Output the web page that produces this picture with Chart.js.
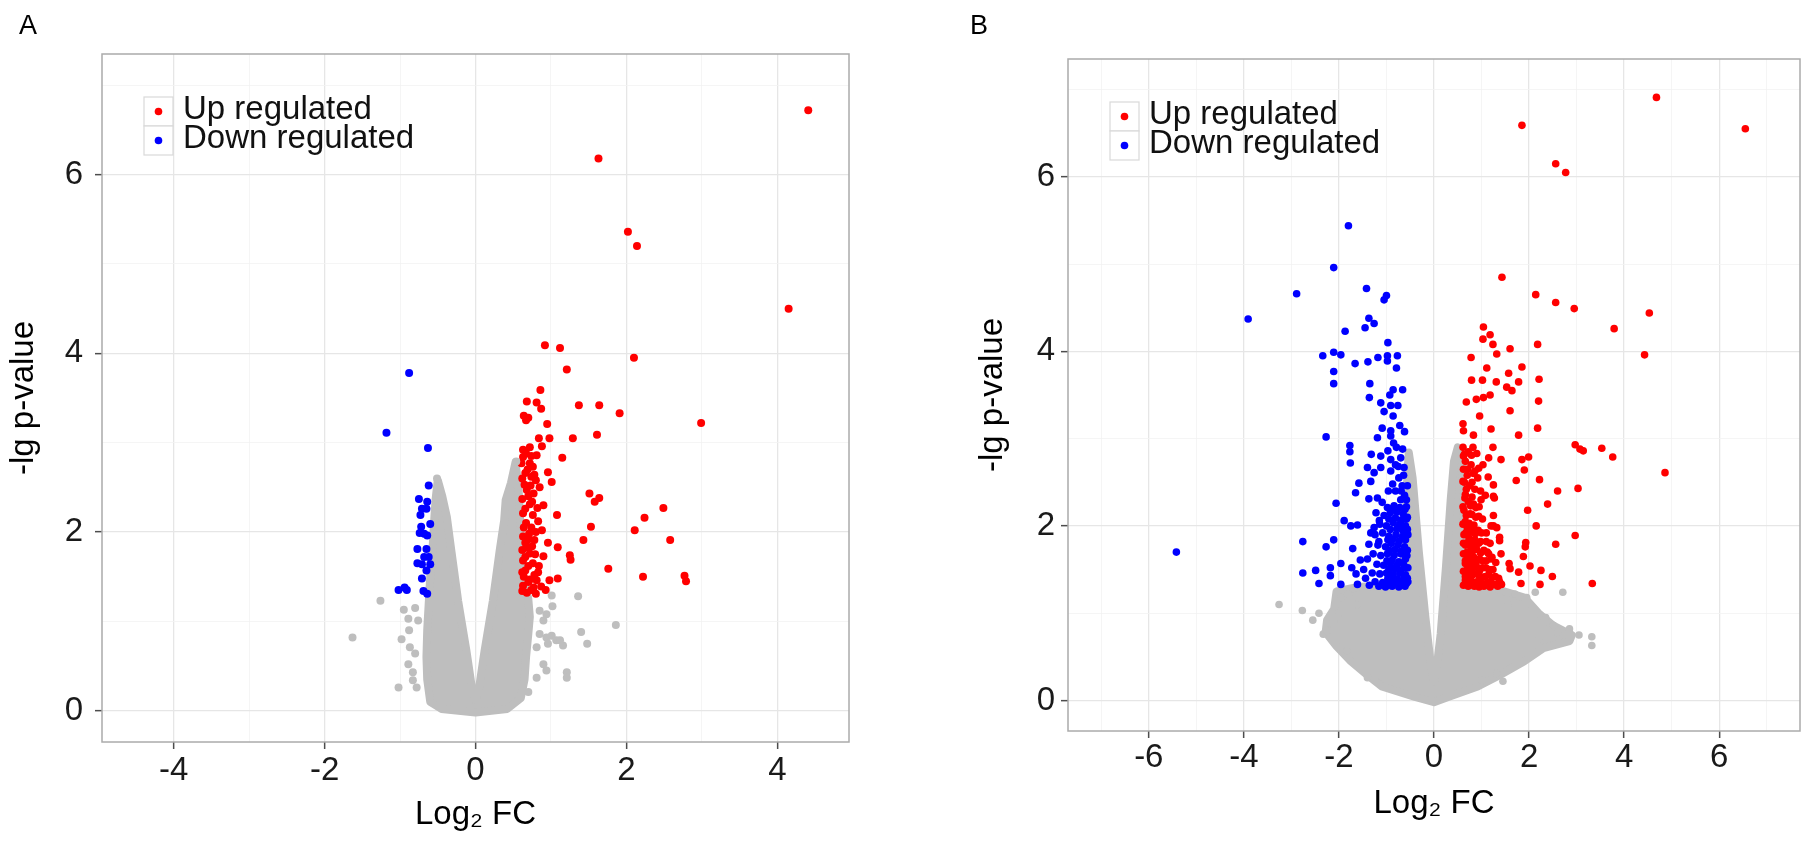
<!DOCTYPE html>
<html>
<head>
<meta charset="utf-8">
<title>Volcano plots</title>
<script src="https://cdn.jsdelivr.net/npm/chart.js@4.4.1/dist/chart.umd.min.js"></script>
<style>
  html, body { margin: 0; padding: 0; background: #fff; }
  #wrap { position: relative; width: 1813px; height: 852px; overflow: hidden; }
  #wrap canvas { position: absolute; left: 0; top: 0; }
  .panel-tag { position: absolute; font: 27px "Liberation Sans", Arial, sans-serif; line-height: 27px; color: #000; }
</style>
</head>
<body>
<div id="wrap">
  <canvas id="chartA" width="1813" height="852" style="width:1813px;height:852px"></canvas>
  <canvas id="chartB" width="1813" height="852" style="width:1813px;height:852px"></canvas>
  <div class="panel-tag" style="left:19px;top:12px">A</div>
  <div class="panel-tag" style="left:970px;top:12px">B</div>
</div>
<script>
// Tick labels / legend text
const xTicksA = [-4, -2, 0, 2, 4];
const xTicksB = [-6, -4, -2, 0, 2, 4, 6];
const yTicks = [0, 2, 4, 6];
const seriesLabels = ["Up regulated", "Down regulated"];

// Panel A - up regulated (log2 FC, -lg p)
const aUpX = [4.41, 1.63, 2.02, 2.14, 4.15, 0.92, 1.12, 2.10, 1.21, 0.86, 0.68, 0.81, 0.87, 1.37, 1.64, 1.91, 2.99,
  0.64, 0.70, 0.67, 0.95, 0.84, 0.98, 1.29, 1.61, 0.88, 0.72, 0.67, 0.63, 1.15,
  0.61, 0.72, 0.76, 0.66, 0.74, 0.96, 1.01, 0.85, 0.68, 0.77, 0.62, 0.72, 0.90, 0.63, 0.76, 0.67, 0.71, 0.63, 0.78,
  0.96, 0.68, 0.72, 0.90, 0.63, 0.76, 0.66, 0.83, 0.72, 0.81, 0.63, 0.74, 0.68, 0.87, 0.98, 1.09, 1.09, 1.08, 0.65,
  0.80, 0.69, 0.81, 0.64, 0.74, 0.83, 0.70, 0.79, 0.64, 0.77, 0.93, 0.70, 0.82, 0.66,
  1.51, 1.58, 1.64, 2.49, 2.24, 1.53, 2.11, 2.58, 1.43, 1.25, 1.26, 1.76, 2.22, 2.77, 2.79,
  0.62, 0.70, 0.78, 0.66, 0.75, 0.62, 0.70, 0.80, 0.66, 0.75, 0.62, 0.73, 0.78, 0.63, 0.74, 0.84, 0.88, 0.62, 0.80];
const aUpY = [6.72, 6.18, 5.36, 5.20, 4.50, 4.09, 4.06, 3.95, 3.82, 3.59, 3.46, 3.45, 3.38, 3.42, 3.42, 3.33, 3.22,
  3.30, 3.28, 3.25, 3.21, 3.05, 3.05, 3.05, 3.09, 2.96, 2.95, 2.88, 2.84, 2.83,
  2.77, 2.77, 2.73, 2.66, 2.62, 2.67, 2.56, 2.50, 2.47, 2.43, 2.37, 2.31, 2.30, 2.21, 2.19, 2.10, 1.98, 1.95, 1.91,
  1.88, 1.83, 1.76, 1.73, 1.68, 1.65, 1.57, 1.55, 1.47, 1.46, 1.40, 1.35, 1.32, 1.39, 1.46, 1.48, 1.83, 2.19, 2.53,
  2.58, 2.70, 2.86, 2.05, 2.05, 2.12, 1.62, 1.75, 1.50, 1.38, 1.35, 2.40, 2.27, 1.88,
  2.43, 2.34, 2.38, 2.27, 2.16, 2.06, 2.02, 1.91, 1.91, 1.74, 1.69, 1.59, 1.50, 1.51, 1.45,
  1.55, 1.44, 1.52, 1.72, 1.84, 1.80, 1.92, 2.00, 2.26, 2.34, 2.60, 2.52, 2.64, 2.92, 2.85, 1.62, 2.02, 1.34, 1.31];

// Panel A - down regulated
const aDownX = [-0.88, -1.18, -0.63, -0.62, -0.75, -0.64, -0.71, -0.65, -0.73, -0.60, -0.74, -0.68, -0.64, -0.77,
  -0.65, -0.68, -0.77, -0.71, -0.60, -0.65, -0.71, -1.02, -0.94, -0.91, -0.69, -0.64, -0.72, -0.62];
const aDownY = [3.78, 3.11, 2.94, 2.52, 2.37, 2.34, 2.26, 2.26, 2.19, 2.09, 1.99, 1.98, 1.96, 1.81,
  1.81, 1.72, 1.65, 1.64, 1.64, 1.57, 1.48, 1.35, 1.38, 1.35, 1.34, 1.31, 2.06, 1.72];

// Panel A - not significant, loose points
const aBgX = [-1.26, -1.63, -1.02, -0.78, -0.83, -0.89, -0.87, -0.98, -0.88, -0.89, -0.95, -0.80, -0.76, -0.80, -0.83,
  1.36, 1.86, 1.40, 1.48, 1.21, 1.21, 1.02, 1.01, 0.94, 0.90, 0.85, 0.94, 1.01, 1.07, 1.16, 1.12, 0.96, 0.90, 0.94,
  0.81, 0.70, 0.81, 0.85, -0.51, 0.54];
const aBgY = [1.23, 0.82, 0.26, 0.26, 0.43, 0.52, 0.71, 0.80, 0.90, 1.03, 1.13, 1.15, 1.01, 0.64, 0.34,
  1.28, 0.96, 0.88, 0.75, 0.43, 0.37, 1.17, 1.29, 1.08, 1.01, 0.86, 0.82, 0.84, 0.79, 0.73, 0.79, 0.75, 0.52, 0.45,
  0.37, 0.21, 0.71, 1.12, 2.60, 2.79];

// Panel A - outline of the dense grey cloud
const aCloudX = [0.00, -0.45, -0.60, -0.64, -0.65, -0.64, -0.62, -0.60, -0.57, -0.55, -0.53, -0.50, -0.44, -0.38,
  -0.32, -0.23, -0.12, -0.05, 0.00, 0.05, 0.12, 0.23, 0.32, 0.38, 0.40, 0.47, 0.53, 0.57, 0.60, 0.63, 0.70, 0.72,
  0.70, 0.67, 0.65, 0.60, 0.42];
const aCloudY = [-0.02, 0.02, 0.10, 0.35, 0.60, 0.90, 1.20, 1.50, 1.80, 2.10, 2.36, 2.58, 2.40, 2.17,
  1.79, 1.23, 0.67, 0.27, 0.12, 0.27, 0.67, 1.23, 1.79, 2.13, 2.36, 2.55, 2.78, 2.50, 2.00, 1.50, 1.25, 1.05,
  0.86, 0.60, 0.35, 0.14, 0.02];

// Panel B - up regulated
const bUpX = [4.68, 1.85, 6.55, 2.56, 2.77, 1.43, 2.14, 2.56, 2.95, 4.53, 3.79, 1.04, 1.18, 1.03, 1.24, 1.32, 1.60,
  2.18, 4.43, 0.78, 1.11, 1.85, 1.57, 1.31, 1.78, 2.21, 0.79, 1.02, 1.53, 1.64, 1.18, 1.04, 0.89, 0.68, 2.20, 1.60,
  0.96, 0.61, 0.62, 0.83, 1.20, 1.78, 2.18, 2.97, 3.07, 3.14, 3.53, 3.76, 0.61, 0.82, 1.24, 1.03, 1.15, 1.41, 1.99,
  1.85, 1.90, 0.62, 0.83, 4.86, 1.73, 2.22, 1.25, 1.25, 0.98, 3.03, 2.60, 2.39, 1.97, 2.15, 2.97, 2.56, 1.93, 1.92,
  1.88, 2.02, 2.25, 2.49, 2.23, 1.83, 3.33, 1.60, 1.78, 1.58, 1.41, 1.22, 1.38, 1.38, 1.25, 1.32, 1.25, 1.27,
  0.64, 0.72, 0.90, 0.66, 0.78, 0.70, 0.92, 0.64, 0.75, 0.86, 0.66, 1.08, 0.72, 0.83, 0.95, 0.63, 0.76, 0.88, 1.02,
  0.66, 0.70, 0.80, 0.93, 1.10, 0.63, 0.74, 0.86, 0.98, 1.18, 0.66, 0.78, 0.90, 1.05, 0.62, 0.72, 0.84, 0.96, 1.10,
  1.30, 0.66, 0.78, 0.90, 1.02, 1.16, 0.62, 0.72, 0.84, 0.95, 1.08, 1.22, 1.36, 0.66, 0.78, 0.90, 1.00, 1.12, 1.27,
  1.42, 0.62, 0.72, 0.85, 0.95, 1.05, 1.18, 1.34, 0.70, 0.81, 0.68, 0.86, 1.14, 1.20, 1.15, 0.99,
  0.67, 0.79, 0.90, 1.21, 1.38, 0.66, 0.79, 1.01, 1.15, 1.29, 0.70, 0.81, 0.96, 1.09, 1.24, 0.66, 0.77, 0.89, 1.02,
  1.20, 0.70, 0.81, 0.98, 1.12, 0.62, 0.71, 0.82, 0.94, 1.10, 0.67, 0.77, 0.87, 1.00, 0.61, 0.74, 0.84, 0.68, 0.80,
  0.94, 0.61, 0.77, 0.88, 0.65, 0.80, 0.80, 0.61, 0.71, 0.94, 0.62, 0.79];
const bUpY = [6.91, 6.59, 6.55, 6.15, 6.05, 4.85, 4.65, 4.56, 4.49, 4.44, 4.26, 4.28, 4.19, 4.14, 4.08, 3.97, 4.03,
  4.08, 3.96, 3.93, 3.81, 3.82, 3.75, 3.65, 3.65, 3.68, 3.67, 3.67, 3.59, 3.55, 3.50, 3.47, 3.45, 3.42, 3.43, 3.32,
  3.26, 3.17, 3.09, 3.04, 3.11, 3.04, 3.12, 2.93, 2.88, 2.86, 2.89, 2.79, 2.90, 2.90, 2.90, 2.70, 2.78, 2.76, 2.79,
  2.76, 2.64, 2.65, 2.60, 2.61, 2.52, 2.53, 2.47, 2.34, 2.40, 2.43, 2.40, 2.25, 2.18, 2.00, 1.89, 1.79, 1.81, 1.76,
  1.65, 1.54, 1.49, 1.42, 1.33, 1.34, 1.34, 1.51, 1.47, 1.57, 1.68, 1.64, 1.87, 1.83, 2.00, 1.98, 2.12, 2.32,
  2.82, 2.85, 2.83, 2.74, 2.70, 2.58, 2.55, 2.50, 2.46, 2.42, 2.36, 2.35, 2.28, 2.25, 2.22, 2.18, 2.14, 2.10, 2.08,
  2.05, 1.98, 1.96, 1.95, 1.92, 1.90, 1.86, 1.84, 1.82, 1.80, 1.78, 1.75, 1.73, 1.72, 1.68, 1.66, 1.64, 1.62, 1.60,
  1.58, 1.57, 1.55, 1.53, 1.52, 1.50, 1.48, 1.46, 1.45, 1.43, 1.42, 1.41, 1.40, 1.38, 1.37, 1.36, 1.34, 1.35, 1.33,
  1.33, 1.32, 1.31, 1.31, 1.30, 1.31, 1.30, 1.31, 1.62, 1.83, 2.42, 2.63, 2.56, 2.00, 1.68, 2.30,
  1.34, 1.33, 1.35, 1.34, 1.36, 1.42, 1.43, 1.41, 1.44, 1.42, 1.50, 1.51, 1.49, 1.52, 1.50, 1.60, 1.61, 1.59, 1.60,
  1.62, 1.70, 1.71, 1.69, 1.70, 1.80, 1.81, 1.79, 1.80, 1.82, 1.92, 1.93, 1.91, 1.92, 2.02, 2.03, 2.01, 2.12, 2.13,
  2.11, 2.22, 2.23, 2.21, 2.32, 2.33, 2.50, 2.51, 2.65, 2.66, 2.80, 2.81];

// Panel B - down regulated
const bDownX = [-1.80, -2.11, -2.89, -3.91, -1.42, -1.05, -1.00, -1.37, -1.26, -1.87, -1.45, -0.97, -2.34, -2.11,
  -1.96, -1.66, -1.39, -1.18, -0.98, -0.77, -0.98, -0.79, -2.11, -2.11, -1.35, -1.36, -0.86, -0.66, -0.93, -1.12,
  -0.91, -0.76, -1.05, -0.86, -1.09, -0.91, -0.62, -1.19, -0.91, -2.27, -1.77, -1.77, -1.76, -0.79, -0.97, -1.12,
  -1.32, -1.40, -1.26, -1.12, -0.91, -0.81, -0.70, -0.63, -0.91, -0.74, -1.33, -1.58, -0.67, -0.56, -1.65, -0.81,
  -0.62, -2.06, -1.37, -1.19, -1.09, -0.98, -0.84, -1.89, -1.75, -1.61, -1.15, -1.26, -1.33, -2.76, -2.11, -2.27,
  -1.71, -1.37, -1.16, -5.42, -2.76, -2.49, -2.18, -2.18, -2.42, -1.96, -1.96, -1.73, -1.64, -1.61, -1.48, -1.44,
  -1.55,
  -1.22, -1.05, -0.92, -0.78, -0.65, -0.56, -1.14, -1.00, -0.86, -0.72, -0.60, -1.24, -1.08, -0.95, -0.80, -0.66,
  -0.55, -1.18, -1.02, -0.90, -0.76, -0.62, -1.28, -1.12, -0.98, -0.84, -0.70, -0.57, -1.20, -1.06, -0.92, -0.78,
  -0.64, -0.55, -1.30, -1.14, -1.00, -0.86, -0.72, -0.60, -1.24, -1.08, -0.94, -0.80, -0.67, -0.55, -1.16, -1.02,
  -0.88, -0.74, -0.61, -1.36, -1.40, -0.96, -0.70, -0.58,
  -0.93, -0.83, -0.69, -0.58, -0.97, -0.89, -0.77, -0.63, -0.56, -0.95, -0.83, -0.70, -0.60, -0.99, -0.88, -0.74,
  -0.60, -0.94, -0.82, -0.69, -0.56, -0.97, -0.86, -0.73, -0.60, -0.92, -0.78, -0.66, -0.56, -0.95, -0.81, -0.68,
  -0.58, -0.88, -0.72, -0.61, -0.87, -0.75, -0.64, -0.85, -0.72, -0.66, -0.58, -0.69];
const bDownY = [5.44, 4.96, 4.66, 4.37, 4.72, 4.59, 4.64, 4.38, 4.32, 4.23, 4.27, 4.10, 3.95, 3.99,
  3.96, 3.86, 3.88, 3.93, 3.95, 3.95, 3.89, 3.81, 3.77, 3.63, 3.63, 3.47, 3.56, 3.56, 3.50, 3.41,
  3.38, 3.38, 3.31, 3.26, 3.12, 3.09, 3.08, 3.01, 3.03, 3.02, 2.92, 2.85, 2.72, 2.90, 2.86, 2.80,
  2.82, 2.67, 2.61, 2.67, 2.76, 2.70, 2.78, 2.67, 2.63, 2.55, 2.51, 2.49, 2.46, 2.46, 2.38, 2.40,
  2.35, 2.26, 2.31, 2.32, 2.27, 2.21, 2.23, 2.06, 2.00, 2.01, 2.06, 1.98, 1.92, 1.82, 1.84, 1.76,
  1.74, 1.79, 1.82, 1.70, 1.46, 1.49, 1.52, 1.43, 1.34, 1.57, 1.33, 1.52, 1.45, 1.33, 1.50, 1.40,
  1.61,
  2.15, 2.12, 2.15, 2.16, 2.14, 2.10, 2.02, 2.00, 2.04, 2.02, 2.00, 1.90, 1.92, 1.88, 1.90, 1.88,
  1.90, 1.78, 1.76, 1.80, 1.78, 1.76, 1.68, 1.66, 1.68, 1.66, 1.68, 1.66, 1.56, 1.55, 1.57, 1.55,
  1.56, 1.52, 1.46, 1.45, 1.46, 1.44, 1.46, 1.44, 1.36, 1.35, 1.36, 1.35, 1.36, 1.36, 1.31, 1.30,
  1.31, 1.30, 1.31, 1.32, 1.62, 2.40, 2.30, 2.22,
  1.33, 1.35, 1.32, 1.34, 1.40, 1.41, 1.39, 1.42, 1.40, 1.50, 1.51, 1.49, 1.52, 1.60, 1.61, 1.59,
  1.62, 1.72, 1.73, 1.71, 1.72, 1.84, 1.85, 1.83, 1.84, 1.96, 1.97, 1.95, 1.96, 2.08, 2.09, 2.07,
  2.08, 2.20, 2.21, 2.19, 2.48, 2.68, 2.58, 2.95, 3.15, 2.88, 2.30, 2.40];

// Panel B - not significant, loose points
const bBgX = [-3.26, -2.77, -2.42, -2.00, -2.11, -1.96, -1.80, -2.33, -1.83, -2.25, -1.40, -2.55, -1.62,
  2.71, 2.13, 1.95, 3.32, 3.32, 2.51, 1.32, 1.01, 3.05, 2.60, 2.35, 1.70, 1.55, 2.85, 2.20, 1.45];
const bBgY = [1.10, 1.03, 1.00, 1.00, 0.91, 1.18, 1.22, 0.76, 0.57, 0.80, 0.26, 0.92, 1.10,
  1.24, 1.24, 1.18, 0.73, 0.63, 0.86, 0.31, 0.23, 0.75, 0.78, 0.95, 1.22, 1.10, 0.82, 0.70, 0.22];

// Panel B - outline of the dense grey cloud
const bCloudX = [0.00, -0.40, -1.10, -1.40, -1.75, -2.05, -2.28, -2.25, -2.10, -2.05, -1.60, -1.00, -0.62, -0.58,
  -0.56, -0.53, -0.45, -0.42, -0.32, -0.18, -0.06, 0.00, 0.04, 0.14, 0.25, 0.35, 0.42, 0.50, 0.60, 0.65, 1.30,
  1.90, 2.20, 2.50, 2.90, 2.85, 2.30, 1.90, 1.38, 0.92, 0.30];
const bCloudY = [-0.02, 0.04, 0.16, 0.29, 0.45, 0.62, 0.78, 0.92, 1.05, 1.25, 1.30, 1.32, 1.60, 2.20,
  2.60, 2.84, 2.55, 2.36, 1.71, 0.95, 0.38, 0.22, 0.30, 0.76, 1.52, 2.29, 2.74, 2.90, 2.80, 1.30, 1.28,
  1.18, 1.00, 0.86, 0.75, 0.68, 0.60, 0.45, 0.29, 0.16, 0.04];

const FONT = "'Liberation Sans', Arial, sans-serif";
const GRAY = "#bebebe";
const RED = "#ff0000";
const BLUE = "#0000ff";
const TICK_COLOR = "#1a1a1a";

const toPoints = (xs, ys) => xs.map((x, i) => ({ x: x, y: ys[i] }));

// grey cloud drawn as a filled outline through the scales
const makeCloud = (xs, ys, edge) => ({
  id: "cloud",
  beforeDatasetsDraw(chart) {
    const { ctx, chartArea, scales } = chart;
    ctx.save();
    ctx.beginPath();
    ctx.rect(chartArea.left, chartArea.top, chartArea.width, chartArea.height);
    ctx.clip();
    ctx.beginPath();
    xs.forEach((x, i) => {
      const px = scales.x.getPixelForValue(x);
      const py = scales.y.getPixelForValue(ys[i]);
      if (i === 0) ctx.moveTo(px, py);
      else ctx.lineTo(px, py);
    });
    ctx.closePath();
    ctx.fillStyle = GRAY;
    ctx.strokeStyle = GRAY;
    ctx.lineWidth = edge;
    ctx.lineJoin = "round";
    ctx.fill();
    ctx.stroke();
    ctx.restore();
  },
});

// panel border
const framePlugin = {
  id: "frame",
  afterDatasetsDraw(chart) {
    const { ctx, chartArea } = chart;
    ctx.save();
    ctx.strokeStyle = "#ababab";
    ctx.lineWidth = 1.5;
    ctx.strokeRect(chartArea.left, chartArea.top, chartArea.width, chartArea.height);
    ctx.restore();
  },
};

// ggplot-like legend inside the panel
const makeLegend = (dx, dy) => ({
  id: "keyLegend",
  afterDraw(chart) {
    const { ctx, chartArea } = chart;
    const size = 29;
    const x0 = chartArea.left + dx;
    const y0 = chartArea.top + dy;
    ctx.save();
    chart.data.datasets
      .filter((d) => d.inLegend)
      .sort((a, b) => seriesLabels.indexOf(a.label) - seriesLabels.indexOf(b.label))
      .forEach((d, i) => {
        const top = y0 + i * size;
        ctx.fillStyle = "#fff";
        ctx.fillRect(x0, top, size, size);
        ctx.strokeStyle = "#d9d9d9";
        ctx.lineWidth = 1.2;
        ctx.strokeRect(x0, top, size, size);
        ctx.beginPath();
        ctx.arc(x0 + size / 2, top + size / 2, 3.8, 0, Math.PI * 2);
        ctx.fillStyle = d.backgroundColor;
        ctx.fill();
        ctx.fillStyle = "#111";
        ctx.font = "33px " + FONT;
        ctx.textBaseline = "alphabetic";
        ctx.fillText(d.label, x0 + size + 10, top + 22);
      });
    ctx.restore();
  },
});

const scatterSet = (label, xs, ys, color, r, inLegend) => ({
  label: label,
  data: toPoints(xs, ys),
  backgroundColor: color,
  borderWidth: 0,
  pointRadius: r,
  pointHoverRadius: r,
  inLegend: inLegend,
});

const isMajor = (c, labels) => c.tick && labels.includes(c.tick.value);

const axis = (min, max, labels, title, cfg) => ({
  type: "linear",
  min: min,
  max: max,
  afterFit: cfg.fit,
  border: { display: false },
  ticks: {
    stepSize: 1,
    includeBounds: false,
    autoSkip: false,
    maxRotation: 0,
    padding: cfg.pad,
    color: TICK_COLOR,
    font: { family: FONT, size: 33 },
    callback: (v) => (labels.includes(v) ? String(v) : ""),
  },
  grid: {
    color: (c) => (isMajor(c, labels) ? "#e6e6e6" : "#f3f3f3"),
    lineWidth: (c) => (isMajor(c, labels) ? 1.3 : 0.8),
    tickLength: 7,
    tickColor: (c) => (isMajor(c, labels) ? "#4d4d4d" : "rgba(0,0,0,0)"),
    tickWidth: 1.5,
  },
  title: {
    display: true,
    text: title,
    color: "#000",
    padding: 0,
    font: { family: FONT, size: 33 },
  },
});

const buildChart = (el, p) =>
  new Chart(el, {
    type: "scatter",
    data: {
      datasets: [
        scatterSet("ns", p.bgX, p.bgY, GRAY, p.r, false),
        scatterSet(seriesLabels[1], p.downX, p.downY, BLUE, p.r, true),
        scatterSet(seriesLabels[0], p.upX, p.upY, RED, p.r, true),
      ],
    },
    options: {
      responsive: false,
      animation: false,
      devicePixelRatio: 1,
      events: [],
      layout: { padding: p.padding },
      plugins: { legend: { display: false }, tooltip: { enabled: false } },
      scales: {
        x: axis(p.xMin, p.xMax, p.xTicks, "Log\u2082 FC", {
          pad: p.xPad,
          fit: (s) => { s.height = 93; },
        }),
        y: axis(-0.35, 7.35, yTicks, "-lg p-value", {
          pad: p.yPad,
          fit: (s) => { s.width = p.yWidth; },
        }),
      },
    },
    plugins: [makeCloud(p.cloudX, p.cloudY, 8), framePlugin, makeLegend(42, 43)],
  });

window.addEventListener("DOMContentLoaded", () => {
  buildChart(document.getElementById("chartA"), {
    upX: aUpX, upY: aUpY, downX: aDownX, downY: aDownY, bgX: aBgX, bgY: aBgY,
    cloudX: aCloudX, cloudY: aCloudY, xTicks: xTicksA, xMin: -4.95, xMax: 4.95, r: 4,
    padding: { left: 4, right: 964, top: 54, bottom: 17 }, yWidth: 98, xPad: 2, yPad: 12,
  });
  buildChart(document.getElementById("chartB"), {
    upX: bUpX, upY: bUpY, downX: bDownX, downY: bDownY, bgX: bBgX, bgY: bBgY,
    cloudX: bCloudX, cloudY: bCloudY, xTicks: xTicksB, xMin: -7.7, xMax: 7.7, r: 3.8,
    padding: { left: 973, right: 13, top: 59, bottom: 28 }, yWidth: 95, xPad: 0, yPad: 6,
  });
});
</script>
</body>
</html>
